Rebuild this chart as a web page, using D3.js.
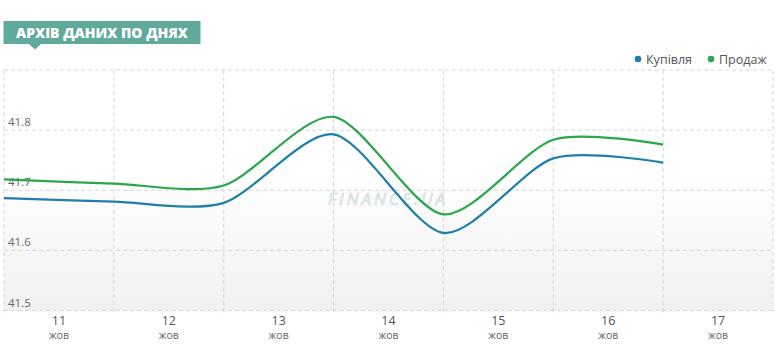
<!DOCTYPE html>
<html>
<head>
<meta charset="utf-8">
<script src="https://cdn.jsdelivr.net/npm/d3@7"></script>
<style>
  body { margin: 0; background: #fff; }
  svg { display: block; font-family: "Open Sans", "DejaVu Sans", sans-serif; }
</style>
</head>
<body>
<svg width="778" height="345"></svg>
<script>
// data
var days = ['11', '12', '13', '14', '15', '16', '17']
var month = 'жов'
var buy = [41.687, 41.681, 41.679, 41.793, 41.629, 41.753, 41.746]
var sell = [41.718, 41.711, 41.708, 41.822, 41.660, 41.784, 41.776]
var yTicks = [41.5, 41.6, 41.7, 41.8, 41.9]
var seriesNames = ['Купівля', 'Продаж']
var colors = ['#1f7fa8', '#2ba64b']

function draw() {
  var svg = d3.select('svg')
  var margin = {left: 4, right: 773, top: 70, bottom: 310.5}

  const x = d3.scaleLinear().domain([0, days.length]).range([margin.left, margin.right])
  const y = d3.scaleLinear().domain([41.5, 41.9]).range([margin.bottom, margin.top])

  // background gradient
  var defs = svg.append('defs')
  var grad = defs.append('linearGradient').attr('id', 'bg').attr('x1', 0).attr('x2', 0).attr('y1', 0).attr('y2', 1)
  grad.append('stop').attr('offset', '0%').attr('stop-color', '#ffffff')
  grad.append('stop').attr('offset', '42%').attr('stop-color', '#ffffff')
  grad.append('stop').attr('offset', '100%').attr('stop-color', '#f1f1f1')
  svg.append('rect')
    .attr('x', margin.left).attr('y', margin.top)
    .attr('width', margin.right - margin.left).attr('height', margin.bottom - margin.top)
    .attr('fill', 'url(#bg)')

  // watermark
  svg.append('text')
    .attr('x', 388).attr('y', 205)
    .attr('text-anchor', 'middle')
    .attr('font-size', 17).attr('font-style', 'italic')
    .attr('letter-spacing', 3)
    .attr('fill', '#f3f7f7').attr('stroke', '#cfdcdd').attr('stroke-width', 0.7)
    .text('FINANCE.UA')

  // horizontal grid
  svg.append('g')
    .selectAll('line')
    .data(yTicks)
    .enter().append('line')
    .attr('x1', margin.left).attr('x2', margin.right)
    .attr('y1', d => y(d)).attr('y2', d => y(d))
    .attr('stroke', '#d6d6d6').attr('stroke-dasharray', '4,3')

  // vertical grid
  svg.append('g')
    .selectAll('line')
    .data(d3.range(days.length + 1))
    .enter().append('line')
    .attr('x1', d => x(d)).attr('x2', d => x(d))
    .attr('y1', margin.top).attr('y2', margin.bottom + 5)
    .attr('stroke', '#d6d6d6').attr('stroke-dasharray', '4,3')

  // y labels
  svg.append('g')
    .selectAll('text')
    .data(yTicks.slice(0, 4))
    .enter().append('text')
    .attr('x', 8).attr('y', d => y(d) - 4)
    .attr('font-size', 11.5).attr('fill', '#666')
    .text(d => d.toFixed(1))

  // x labels
  var xl = svg.append('g')
  xl.selectAll('.day')
    .data(days)
    .enter().append('text')
    .attr('x', (d, i) => x(i + 0.5)).attr('y', 325)
    .attr('text-anchor', 'middle')
    .attr('font-size', 12.5).attr('fill', '#555')
    .text(d => d)
  xl.selectAll('.mon')
    .data(days)
    .enter().append('text')
    .attr('x', (d, i) => x(i + 0.5)).attr('y', 339)
    .attr('text-anchor', 'middle')
    .attr('font-size', 10.5).attr('fill', '#666')
    .text(month)

  // lines
  var line = d3.line()
    .x((d, i) => x(i))
    .y(d => y(d))
    .curve(d3.curveCardinal.tension(0.2))
  ;[buy, sell].forEach((s, k) => {
    svg.append('path')
      .datum(s)
      .attr('fill', 'none')
      .attr('stroke', colors[k])
      .attr('stroke-width', 2.2)
      .attr('d', line)
  })

  // title badge
  var badge = svg.append('g')
  badge.append('rect')
    .attr('x', 3.5).attr('y', 21).attr('width', 197).attr('height', 23)
    .attr('fill', '#5faa9b')
  badge.append('path')
    .attr('d', 'M29,44 L35,49.5 L41,44 Z')
    .attr('fill', '#5faa9b')
  badge.append('text')
    .attr('x', 102).attr('y', 38)
    .attr('text-anchor', 'middle')
    .attr('font-size', 14).attr('font-weight', 800)
    .attr('font-family', '"Open Sans", sans-serif')
    .attr('fill', '#fff')
    .text('АРХІВ ДАНИХ ПО ДНЯХ')

  // legend
  var legend = svg.append('g')
  var lx = [638, 711]
  seriesNames.forEach((n, k) => {
    legend.append('circle')
      .attr('cx', lx[k]).attr('cy', 59).attr('r', 3.3)
      .attr('fill', colors[k])
    legend.append('text')
      .attr('x', lx[k] + 8).attr('y', 63.5)
      .attr('font-size', 12.5).attr('fill', '#555')
      .text(n)
  })
}

draw()
</script>
</body>
</html>
